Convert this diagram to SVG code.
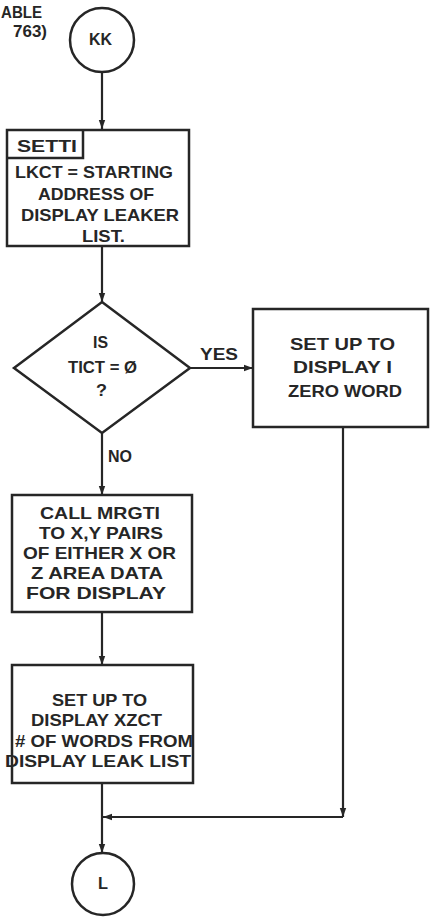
<svg xmlns="http://www.w3.org/2000/svg" width="431" height="918" viewBox="0 0 431 918">
<defs>
<style>
.s{fill:none;stroke:#262626;stroke-width:2.5}
.n{fill:#fff;stroke:#262626;stroke-width:2.5}
.c{fill:none;stroke:#262626;stroke-width:2.2}
text{font-family:"Liberation Sans",Arial,sans-serif;font-weight:bold;font-size:16.5px;fill:#262626}
</style>
<marker id="ah" markerWidth="10" markerHeight="8" refX="9" refY="4" orient="auto" markerUnits="userSpaceOnUse">
<path d="M0,0.8 L9,4 L0,7.2 Z" fill="#262626"/>
</marker>
</defs>
<rect width="431" height="918" fill="#fff"/>
<g id="header">
<text x="1" y="18" textLength="41" lengthAdjust="spacingAndGlyphs">ABLE</text>
<text x="13" y="37" textLength="34" lengthAdjust="spacingAndGlyphs">763)</text>
</g>
<g id="connectors">
<path class="c" d="M102,72 V129" marker-end="url(#ah)"/>
<path class="c" d="M102,246 V302" marker-end="url(#ah)"/>
<path class="c" d="M190,368 H253" marker-end="url(#ah)"/>
<path class="c" d="M102,433 V495" marker-end="url(#ah)"/>
<path class="c" d="M102,612 V665" marker-end="url(#ah)"/>
<path class="c" d="M102,783 V853" marker-end="url(#ah)"/>
<path class="c" d="M343,427 V817" marker-end="url(#ah)"/>
<path class="c" d="M343,817 H103" marker-end="url(#ah)"/>
</g>
<g id="kk">
<circle class="n" cx="102" cy="40" r="32"/>
<text x="89" y="45" textLength="23" lengthAdjust="spacingAndGlyphs">KK</text>
</g>
<g id="setti">
<rect class="n" x="7" y="130" width="182" height="116"/>
<path class="s" d="M7,158 H83 V130"/>
<text x="17" y="152" textLength="60" lengthAdjust="spacingAndGlyphs">SETTI</text>
<text x="15" y="178" textLength="158" lengthAdjust="spacingAndGlyphs">LKCT = STARTING</text>
<text x="38" y="200" textLength="116" lengthAdjust="spacingAndGlyphs">ADDRESS OF</text>
<text x="21" y="221" textLength="158" lengthAdjust="spacingAndGlyphs">DISPLAY LEAKER</text>
<text x="82" y="242" textLength="43" lengthAdjust="spacingAndGlyphs">LIST.</text>
</g>
<g id="decision">
<polygon class="n" points="102,302 190,368 102,433 14,368"/>
<text x="93" y="348" textLength="15" lengthAdjust="spacingAndGlyphs">IS</text>
<text x="68" y="373" textLength="69" lengthAdjust="spacingAndGlyphs">TICT = Ø</text>
<text x="96" y="396" textLength="11" lengthAdjust="spacingAndGlyphs">?</text>
</g>
<g id="labels">
<text x="200" y="360" textLength="38" lengthAdjust="spacingAndGlyphs">YES</text>
<text x="108" y="462" textLength="24" lengthAdjust="spacingAndGlyphs">NO</text>
</g>
<g id="zero">
<rect class="n" x="253" y="309" width="175" height="118"/>
<text x="290" y="350" textLength="105" lengthAdjust="spacingAndGlyphs">SET UP TO</text>
<text x="293" y="373" textLength="99" lengthAdjust="spacingAndGlyphs">DISPLAY I</text>
<text x="288" y="397" textLength="114" lengthAdjust="spacingAndGlyphs">ZERO WORD</text>
</g>
<g id="mrgti">
<rect class="n" x="12" y="495" width="180" height="117"/>
<text x="40" y="519" textLength="120" lengthAdjust="spacingAndGlyphs">CALL MRGTI</text>
<text x="39" y="539" textLength="124" lengthAdjust="spacingAndGlyphs">TO X,Y PAIRS</text>
<text x="23" y="559" textLength="153" lengthAdjust="spacingAndGlyphs">OF EITHER X OR</text>
<text x="31" y="579" textLength="132" lengthAdjust="spacingAndGlyphs">Z AREA DATA</text>
<text x="26" y="599" textLength="140" lengthAdjust="spacingAndGlyphs">FOR DISPLAY</text>
</g>
<g id="xzct">
<rect class="n" x="12" y="665" width="181" height="118"/>
<text x="52" y="706" textLength="95" lengthAdjust="spacingAndGlyphs">SET UP TO</text>
<text x="31" y="726" textLength="131" lengthAdjust="spacingAndGlyphs">DISPLAY XZCT</text>
<text x="15" y="747" textLength="178" lengthAdjust="spacingAndGlyphs"># OF WORDS FROM</text>
<text x="5" y="767" textLength="186" lengthAdjust="spacingAndGlyphs">DISPLAY LEAK LIST</text>
</g>
<g id="l">
<circle class="n" cx="103" cy="884" r="31"/>
<text x="98" y="889" textLength="10" lengthAdjust="spacingAndGlyphs">L</text>
</g>
</svg>
